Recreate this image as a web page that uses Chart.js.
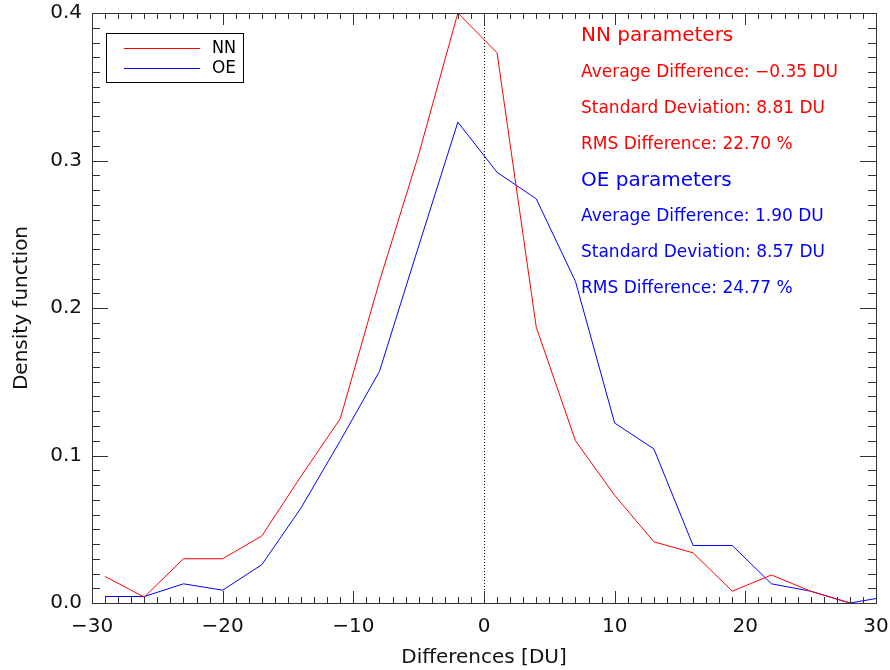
<!DOCTYPE html>
<html>
<head>
<meta charset="utf-8">
<script src="https://cdn.jsdelivr.net/npm/chart.js@4/dist/chart.umd.min.js"></script>
<style>
  html, body { margin: 0; padding: 0; background: #fff; }
  #wrap { width: 890px; height: 670px; }
</style>
</head>
<body>
<div id="wrap"><canvas id="densityChart" width="890" height="670"></canvas></div>
<script>
// bin centres [DU]
var differences = [-29, -26, -23, -20, -17, -14, -11, -8, -5, -2, 1, 4, 7, 10, 13, 16, 19, 22, 25, 28, 31];

// density of each retrieval
var NN = [0.018, 0.004, 0.030, 0.030, 0.0455, 0.086, 0.125, 0.218, 0.304, 0.400, 0.373, 0.187, 0.110, 0.073, 0.0415, 0.034, 0.008, 0.019, 0.008, 0.0];
var OE = [0.0044, 0.0044, 0.013, 0.0087, 0.026, 0.0645, 0.110, 0.157, 0.242, 0.326, 0.292, 0.274, 0.218, 0.122, 0.1045, 0.039, 0.039, 0.013, 0.008, 0.0, 0.0045];

var xTicks = [-30, -20, -10, 0, 10, 20, 30];
var yTicks = [0.0, 0.1, 0.2, 0.3, 0.4];

var nnText = ["NN parameters", "Average Difference: \u22120.35 DU", "Standard Deviation: 8.81 DU", "RMS Difference: 22.70 %"];
var oeText = ["OE parameters", "Average Difference: 1.90 DU", "Standard Deviation: 8.57 DU", "RMS Difference: 24.77 %"];

var FONT = "'DejaVu Sans', sans-serif";

function toPoints(values) {
    return values.map(function (v, i) { return { x: differences[i], y: v }; });
}

// no extra room for overhanging tick labels, the box is placed by layout.padding
function noOverhang(s) {
    s.paddingLeft = 0; s.paddingRight = 0; s.paddingTop = 0; s.paddingBottom = 0;
}

// IDL style box: inward ticks on all four sides, dotted zero line, legend, text
var idlFrame = {
    id: 'idlFrame',
    beforeDatasetsDraw: function (chart) {
        var ctx = chart.ctx, a = chart.chartArea, x0 = chart.scales.x.getPixelForValue(0);
        ctx.save();
        ctx.strokeStyle = '#000';
        ctx.lineWidth = 1;
        ctx.setLineDash([1, 2]);
        ctx.beginPath();
        ctx.moveTo(Math.round(x0) + 0.5, a.top);
        ctx.lineTo(Math.round(x0) + 0.5, a.bottom);
        ctx.stroke();
        ctx.restore();
    },
    afterDraw: function (chart) {
        var ctx = chart.ctx, a = chart.chartArea;
        var xs = chart.scales.x, ys = chart.scales.y;
        ctx.save();
        ctx.strokeStyle = '#333';
        ctx.lineWidth = 1;
        ctx.strokeRect(Math.round(a.left) + 0.5, Math.round(a.top) + 0.5, Math.round(a.right - a.left), Math.round(a.bottom - a.top));
        ctx.beginPath();
        var i, p, len;
        for (i = -30; i <= 30; i++) {
            p = Math.round(xs.getPixelForValue(i)) + 0.5;
            len = (i % 10 === 0) ? 12 : 6;
            ctx.moveTo(p, a.bottom); ctx.lineTo(p, a.bottom - len);
            ctx.moveTo(p, a.top); ctx.lineTo(p, a.top + len);
        }
        for (i = 0; i <= 40; i++) {
            p = Math.round(ys.getPixelForValue(i / 100)) + 0.5;
            len = (i % 10 === 0) ? 16 : 8;
            ctx.moveTo(a.left, p); ctx.lineTo(a.left + len, p);
            ctx.moveTo(a.right, p); ctx.lineTo(a.right - len, p);
        }
        ctx.stroke();

        // legend
        ctx.strokeStyle = '#000';
        ctx.strokeRect(106.5, 33.5, 137, 49);
        ctx.font = '17px ' + FONT;
        ctx.textBaseline = 'middle';
        chart.data.datasets.forEach(function (ds, k) {
            var y = 48 + k * 20;
            ctx.strokeStyle = ds.borderColor;
            ctx.beginPath();
            ctx.moveTo(124, y + 0.5); ctx.lineTo(200, y + 0.5);
            ctx.stroke();
            ctx.fillStyle = '#000';
            ctx.fillText(ds.label, 212, y + 1, 24);
        });

        // statistics text
        var widths = [156, 262, 248, 217, 154, 247, 248, 217];
        var lines = nnText.concat(oeText);
        lines.forEach(function (t, k) {
            var head = (k % 4 === 0);
            ctx.font = (head ? '20px ' : '17px ') + FONT;
            ctx.fillStyle = k < 4 ? '#ff0000' : '#0000ff';
            ctx.fillText(t, 581, 36 + k * 36.1, widths[k]);
        });
        ctx.restore();
    }
};

var ctx = document.getElementById("densityChart");

var densityChart = new Chart(ctx, {
    type: 'line',
    data: {
        datasets: [
            {
                label: "NN",
                data: toPoints(NN),
                borderColor: "#ff0000",
                borderWidth: 1,
                pointRadius: 0,
                fill: false
            },
            {
                label: "OE",
                data: toPoints(OE),
                borderColor: "#0000ff",
                borderWidth: 1,
                pointRadius: 0,
                fill: false
            }
        ]
    },
    options: {
        responsive: false,
        animation: false,
        layout: { padding: { left: 0, right: 14, top: 13, bottom: 0 } },
        plugins: { legend: { display: false }, tooltip: { enabled: false } },
        scales: {
            x: {
                type: 'linear',
                min: -30,
                max: 30,
                afterFit: function (s) { s.height = 67; noOverhang(s); },
                afterBuildTicks: function (s) { s.ticks = xTicks.map(function (v) { return { value: v }; }); },
                grid: { display: false, drawTicks: false },
                border: { display: false },
                ticks: {
                    padding: 12,
                    color: '#111',
                    font: { family: FONT, size: 20 },
                    callback: function (v) { return String(v).replace('-', '\u2212'); }
                },
                title: {
                    display: true,
                    text: 'Differences [DU]',
                    color: '#111',
                    font: { family: FONT, size: 20 },
                    padding: { top: 1, bottom: 0 }
                }
            },
            y: {
                min: 0,
                max: 0.4,
                afterFit: function (s) { s.width = 92; noOverhang(s); },
                afterBuildTicks: function (s) { s.ticks = yTicks.map(function (v) { return { value: v }; }); },
                grid: { display: false, drawTicks: false },
                border: { display: false },
                ticks: {
                    padding: 10,
                    color: '#111',
                    font: { family: FONT, size: 20 },
                    callback: function (v) { return Number(v).toFixed(1); }
                },
                title: {
                    display: true,
                    text: 'Density function',
                    color: '#111',
                    font: { family: FONT, size: 20 },
                    padding: { top: 10, bottom: 0 }
                }
            }
        }
    },
    plugins: [idlFrame]
});
</script>
</body>
</html>
